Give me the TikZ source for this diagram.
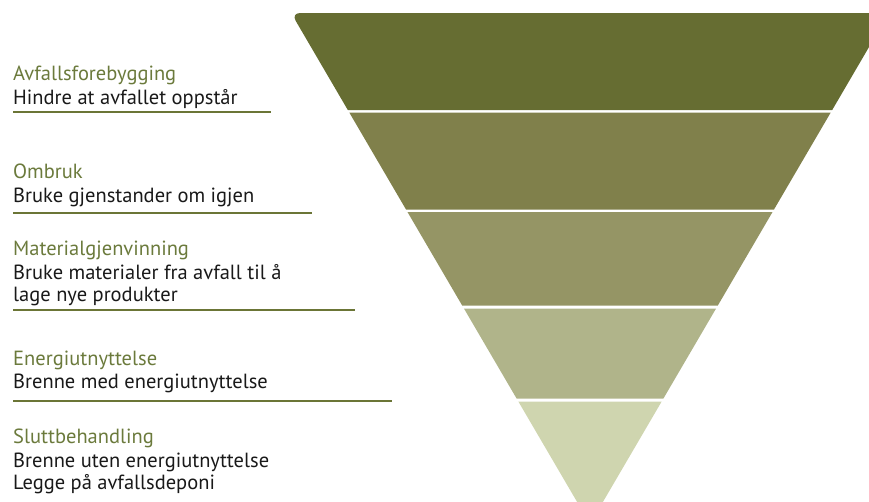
\documentclass[tikz,border=0pt]{standalone}
\usepackage{fontspec}
\setmainfont{PT Sans}
\definecolor{lvlA}{HTML}{666D32}
\definecolor{lvlB}{HTML}{80804B}
\definecolor{lvlC}{HTML}{959565}
\definecolor{lvlD}{HTML}{B0B48A}
\definecolor{lvlE}{HTML}{CFD5AF}
\definecolor{headgreen}{HTML}{6B7A3C}
\definecolor{rulegreen}{HTML}{6B7536}
\begin{document}
\begin{tikzpicture}[x=1pt,y=-1pt,
	head/.style={anchor=base west,inner sep=0pt,text=headgreen,font=\fontsize{20.5}{24}\selectfont},
	desc/.style={anchor=base west,inner sep=0pt,text=black!90,font=\fontsize{20.5}{24}\selectfont},
	rule/.style={line width=2.8pt,draw=rulegreen}]
	\useasboundingbox (0,0) rectangle (869,501);
	\clip (0,0) rectangle (869,501);
	% pyramid, apex at (590,524)
	\fill[lvlA] (347.8,110) [rounded corners=9pt] -- (291.1,13) -- (888.9,13) [sharp corners] -- (832.2,110) -- cycle;
	\foreach \ytop/\ybot/\col in {112.5/209.5/lvlB, 212/305.5/lvlC, 308.5/398.5/lvlD, 401.5/524/lvlE}
		\fill[\col] ({590-0.585*(524-\ytop)},\ytop) -- ({590+0.585*(524-\ytop)},\ytop)
			-- ({590+0.585*(524-\ybot)},\ybot) -- ({590-0.585*(524-\ybot)},\ybot) -- cycle;
	% labels
	\node[head] (forebygging) at (13,80) {Avfallsforebygging};
	\node[desc] (forebyggingtxt) at (13,104) {Hindre at avfallet oppstår};
	\node[head] (ombruk) at (13,178) {Ombruk};
	\node[desc] (ombruktxt) at (13,202) {Bruke gjenstander om igjen};
	\node[head] (material) at (13,255) {Materialgjenvinning};
	\node[desc] (materialtxt) at (13,279) {Bruke materialer fra avfall til å};
	\node[desc] (materialtxtb) at (13,301) {lage nye produkter};
	\node[head] (energi) at (13,365) {Energiutnyttelse};
	\node[desc] (energitxt) at (13,388) {Brenne med energiutnyttelse};
	\node[head] (slutt) at (13,443) {Sluttbehandling};
	\node[desc] (sluttbrenne) at (13,467) {Brenne uten energiutnyttelse};
	\node[desc] (sluttdeponi) at (13,489) {Legge på avfallsdeponi};
	% underlines
	\coordinate (ruleA) at (13,112);
	\coordinate (ruleB) at (13,213);
	\coordinate (ruleC) at (13,310);
	\coordinate (ruleD) at (13,401);
	\draw[rule] (ruleA) -- ++(258,0);
	\draw[rule] (ruleB) -- ++(299,0);
	\draw[rule] (ruleC) -- ++(342,0);
	\draw[rule] (ruleD) -- ++(379,0);
\end{tikzpicture}
\end{document}
